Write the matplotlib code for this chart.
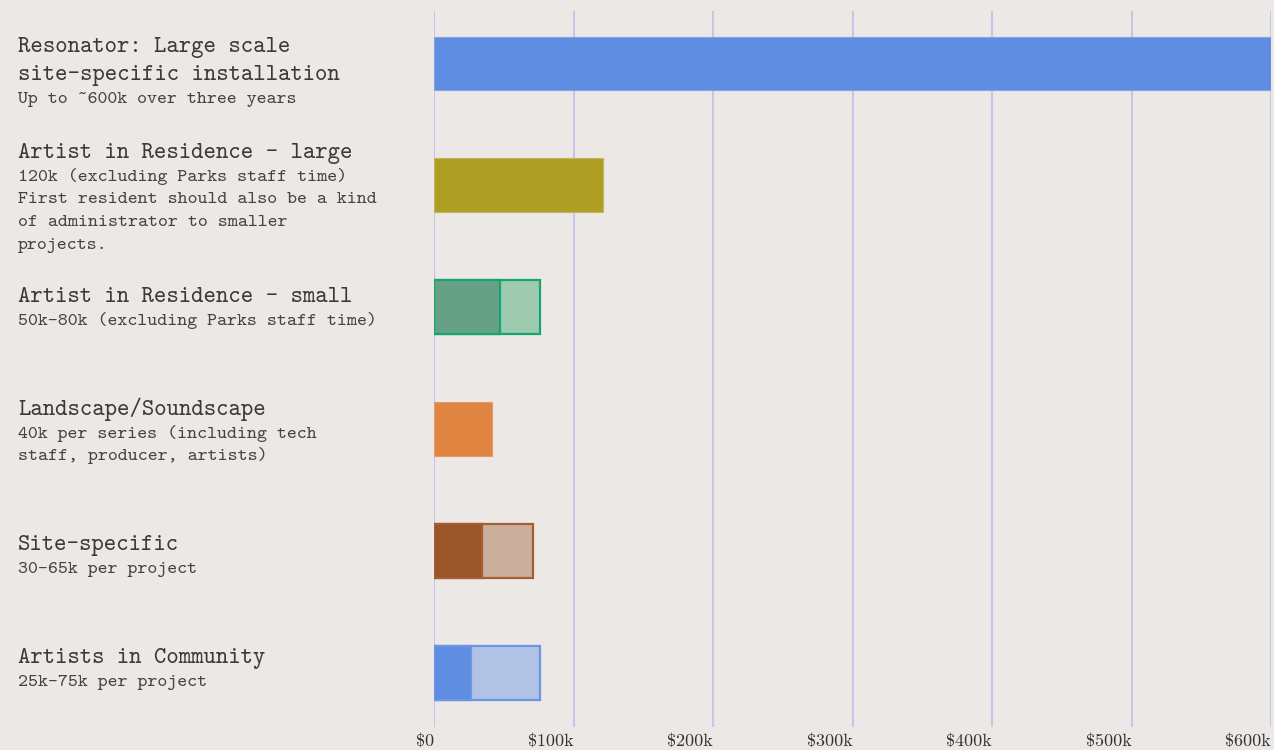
import numpy as np
from matplotlib import pyplot as plt
from matplotlib.ticker import FuncFormatter

# rows, top to bottom
titles = [
    ["Resonator: Large scale", "site-specific installation"],
    ["Artist in Residence - large"],
    ["Artist in Residence - small"],
    ["Landscape/Soundscape"],
    ["Site-specific"],
    ["Artists in Community"],
]
notes = [
    ["Up to ~600k over three years"],
    ["120k (excluding Parks staff time)",
     "First resident should also be a kind",
     "of administrator to smaller",
     "projects."],
    ["50k-80k (excluding Parks staff time)"],
    ["40k per series (including tech", "staff, producer, artists)"],
    ["30-65k per project"],
    ["25k-75k per project"],
]
# budget in dollars: low end and high end (same when a single figure)
low = [600000, 121500, 47000, 41500, 34500, 26500]
high = [600000, 121500, 76000, 41500, 71000, 76000]

dark_colors = ['#5f8de2', '#ae9e24', '#66a085', '#e08442', '#9a5528', '#5f8de2']
light_colors = ['#5f8de2', '#ae9e24', '#9ecbb0', '#e08442', '#cbaf9d', '#b1c2e5']
edge_colors = ['#7fa3e8', '#c4b65a', '#17a473', '#e49a63', '#a45e30', '#6b95e6']

bg = '#ece8e5'
fig = plt.figure(figsize=(12.74, 7.5), dpi=100, facecolor=bg)
ax = fig.add_axes([434 / 1274, 23 / 750, 837 / 1274, 716 / 750])
ax.set_facecolor(bg)

pos = np.arange(len(titles))
h = 0.443
for i in pos:
    ranged = high[i] != low[i]
    lw = 1.6 if ranged else 0.8
    ax.barh(i, high[i], height=h, color=light_colors[i],
            edgecolor=edge_colors[i], linewidth=lw, zorder=3)
    if ranged:
        ax.barh(i, low[i], height=h, color=dark_colors[i],
                edgecolor=edge_colors[i], linewidth=lw, zorder=4)

ax.set_xlim(0, 600000)
ax.set_ylim(5.447, -0.431)
ax.set_xticks(np.arange(0, 600001, 100000))
ax.xaxis.set_major_formatter(
    FuncFormatter(lambda v, p: r'\$0' if v == 0 else r'\$%dk' % (v / 1000)))
ax.set_yticks([])
ax.grid(axis='x', color='#c4c7e7', linewidth=1.5, zorder=0)
ax.tick_params(axis='x', length=0, pad=5, labelsize=13, labelcolor='#333333')
for lab in ax.get_xticklabels():
    lab.set_fontfamily(['cmr10', 'DejaVu Serif'])
    lab.set_horizontalalignment('right')
for s in ax.spines.values():
    s.set_visible(False)

# label block baselines (pixels from top of figure)
title_base = [52, 158, 302, 415, 550, 663]
mono = ['cmtt10', 'DejaVu Sans Mono']
for i in pos:
    y = title_base[i]
    for k, line in enumerate(titles[i]):
        if k > 0:
            y += 28
        fig.text(18 / 1274, 1 - y / 750, line, va='baseline', ha='left',
                 fontsize=17, family=mono, color='#3a3a3a')
    for line in notes[i]:
        y += 22.7
        fig.text(18 / 1274, 1 - y / 750, line, va='baseline', ha='left',
                 fontsize=13.7, family=mono, color='#444444')

plt.savefig('out.png', dpi=100, facecolor=bg)
